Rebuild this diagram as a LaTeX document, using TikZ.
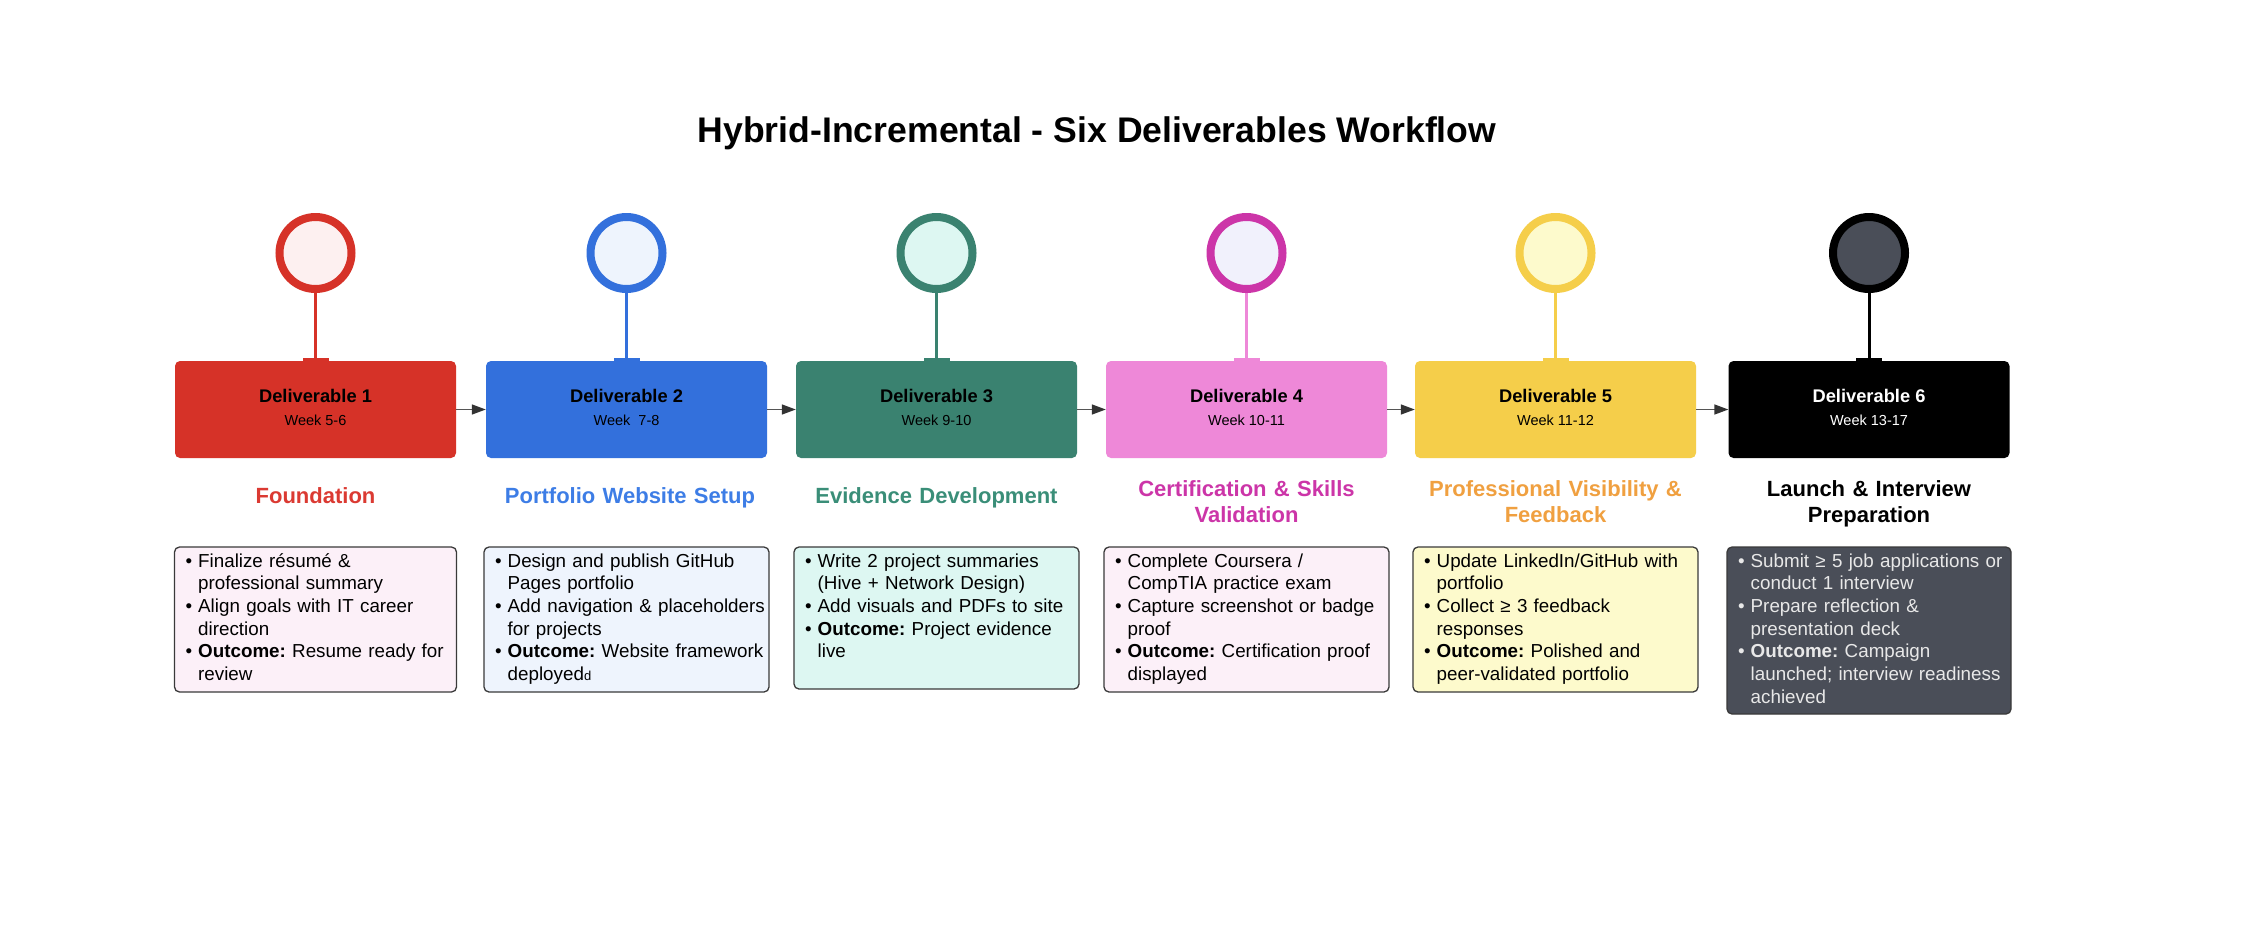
\documentclass[tikz,border=0pt]{standalone}
\usepackage{fontspec}
\setmainfont{Liberation Sans}
\usetikzlibrary{arrows.meta}
\definecolor{colA}{HTML}{D63228}
\definecolor{colB}{HTML}{3370DC}
\definecolor{colC}{HTML}{3A8270}
\definecolor{colD}{HTML}{EE88D8}
\definecolor{colE}{HTML}{F5CE4A}
\definecolor{colF}{HTML}{000000}
\definecolor{ringD}{HTML}{CC35A8}
\definecolor{fillA}{HTML}{FDF0F0}
\definecolor{fillB}{HTML}{EEF4FD}
\definecolor{fillC}{HTML}{DDF7F2}
\definecolor{fillD}{HTML}{F1F1FC}
\definecolor{fillE}{HTML}{FDFACC}
\definecolor{fillF}{HTML}{4A4E58}
\definecolor{listA}{HTML}{FCF0F8}
\definecolor{ttlA}{HTML}{DB3A32}
\definecolor{ttlB}{HTML}{3D7DE6}
\definecolor{ttlC}{HTML}{3A8E78}
\definecolor{ttlD}{HTML}{CC35A8}
\definecolor{ttlE}{HTML}{F0A040}
\definecolor{arrgray}{HTML}{555555}
\definecolor{arrdark}{HTML}{333333}
\definecolor{boxedge}{HTML}{3A3A3A}
\definecolor{lighttext}{HTML}{E8E8E8}
\newcommand\bitem{\makebox[12.5pt][l]{\textbullet}}
\newcommand\cont{\hspace*{12.5pt}}
\frenchspacing
\begin{document}
\begin{tikzpicture}[x=1pt,y=-1pt,
  ring/.style={circle, line width=8pt, minimum size=72pt, inner sep=0pt},
  delbox/.style={rectangle, rounded corners=5pt, minimum width=281pt, minimum height=97pt, inner sep=0pt},
  stem/.style={line width=3pt},
  flow/.style={draw=arrgray, line width=1.5pt, -{Triangle[length=14pt,width=10pt,color=arrdark]}},
  dtitle/.style={anchor=base, inner sep=0pt, font=\fontsize{18.3}{22}\selectfont\bfseries},
  dweek/.style={anchor=base, inner sep=0pt, font=\fontsize{14.5}{17}\selectfont},
  phase/.style={anchor=base, font=\fontsize{22}{26}\selectfont\bfseries, text width=320pt, align=center, inner sep=0pt},
  listbox/.style={draw=boxedge, line width=1.3pt, rounded corners=5pt, inner sep=0pt},
  listtext/.style={anchor=base west, font=\fontsize{18.8}{22.7}\selectfont\frenchspacing, text width=285pt, align=left, inner sep=0pt},
]
\useasboundingbox (0,0) rectangle (2264,946);
\fill[white] (0,0) rectangle (2264,946);

\node[anchor=base, inner sep=0pt, font=\fontsize{35.6}{40}\selectfont\bfseries] (title) at (1097,142) {Hybrid-Incremental - Six Deliverables Workflow};

% circles
\node[ring, draw=colA, fill=fillA] (c1) at (315.5,253) {};
\node[ring, draw=colB, fill=fillB] (c2) at (626.5,253) {};
\node[ring, draw=colC, fill=fillC] (c3) at (936.5,253) {};
\node[ring, draw=ringD, fill=fillD] (c4) at (1246.5,253) {};
\node[ring, draw=colE, fill=fillE] (c5) at (1555.5,253) {};
\node[ring, draw=colF, fill=fillF] (c6) at (1869,253) {};

% deliverable boxes
\node[delbox, fill=colA] (d1) at (315.5,409.5) {};
\node[delbox, fill=colB] (d2) at (626.5,409.5) {};
\node[delbox, fill=colC] (d3) at (936.5,409.5) {};
\node[delbox, fill=colD] (d4) at (1246.5,409.5) {};
\node[delbox, fill=colE] (d5) at (1555.5,409.5) {};
\node[delbox, fill=colF] (d6) at (1869,409.5) {};

% stems and tabs
\foreach \i/\c in {1/colA,2/colB,3/colC,4/colD,5/colE,6/colF}{
  \draw[stem, draw=\c] (c\i.south) -- (d\i.north);
  \fill[\c] ([xshift=-13pt]d\i.north) rectangle ([xshift=13pt,yshift=3pt]d\i.north);
}

% arrows
\draw[flow] (d1.east) -- (d2.west);
\draw[flow] (d2.east) -- (d3.west);
\draw[flow] (d3.east) -- (d4.west);
\draw[flow] (d4.east) -- (d5.west);
\draw[flow] (d5.east) -- (d6.west);

% box labels
\node[dtitle] (d1t) at (315.5,402) {Deliverable 1};
\node[dweek] (d1w) at (315.5,425) {Week 5-6};
\node[dtitle] (d2t) at (626.5,402) {Deliverable 2};
\node[dweek] (d2w) at (626.5,425) {Week\ \ 7-8};
\node[dtitle] (d3t) at (936.5,402) {Deliverable 3};
\node[dweek] (d3w) at (936.5,425) {Week 9-10};
\node[dtitle] (d4t) at (1246.5,402) {Deliverable 4};
\node[dweek] (d4w) at (1246.5,425) {Week 10-11};
\node[dtitle] (d5t) at (1555.5,402) {Deliverable 5};
\node[dweek] (d5w) at (1555.5,425) {Week 11-12};
\node[dtitle, text=white] (d6t) at (1869,402) {Deliverable 6};
\node[dweek, text=white] (d6w) at (1869,425) {Week 13-17};

% phase titles
\node[phase, text=ttlA] (p1) at (315.5,503) {Foundation};
\node[phase, text=ttlB] (p2) at (630,503) {Portfolio Website Setup};
\node[phase, text=ttlC] (p3) at (936.5,503) {Evidence Development};
\node[phase, text=ttlD] (p4) at (1246.5,496) {Certification \& Skills\\Validation};
\node[phase, text=ttlE] (p5) at (1555.5,496) {Professional Visibility \&\\Feedback};
\node[phase, text=black] (p6) at (1869,496) {Launch \& Interview\\Preparation};

% list boxes
\node[listbox, fill=listA, minimum width=282pt, minimum height=145pt] (b1) at (315.5,619.5) {};
\node[listbox, fill=fillB, minimum width=285pt, minimum height=145pt] (b2) at (626.5,619.5) {};
\node[listbox, fill=fillC, minimum width=285pt, minimum height=142pt] (b3) at (936.5,618) {};
\node[listbox, fill=listA, minimum width=285pt, minimum height=145pt] (b4) at (1246.5,619.5) {};
\node[listbox, fill=fillE, minimum width=285pt, minimum height=145pt] (b5) at (1555.5,619.5) {};
\node[listbox, fill=fillF, minimum width=284pt, minimum height=167pt] (b6) at (1869,630.5) {};

% list texts
\node[listtext] (l1) at (185.5,567) {\bitem Finalize résumé \&\\\cont professional summary\\\bitem Align goals with IT career\\\cont direction\\\bitem \textbf{Outcome:} Resume ready for\\\cont review};
\node[listtext] (l2) at (495,567) {\bitem Design and publish GitHub\\\cont Pages portfolio\\\bitem Add navigation \& placeholders\\\cont for projects\\\bitem \textbf{Outcome:} Website framework\\\cont deployed{\fontsize{13}{13}\selectfont d}};
\node[listtext] (l3) at (805,567) {\bitem Write 2 project summaries\\\cont (Hive + Network Design)\\\bitem Add visuals and PDFs to site\\\bitem \textbf{Outcome:} Project evidence\\\cont live};
\node[listtext] (l4) at (1115,567) {\bitem Complete Coursera /\\\cont CompTIA practice exam\\\bitem Capture screenshot or badge\\\cont proof\\\bitem \textbf{Outcome:} Certification proof\\\cont displayed};
\node[listtext] (l5) at (1424,567) {\bitem Update LinkedIn/GitHub with\\\cont portfolio\\\bitem Collect ≥ 3 feedback\\\cont responses\\\bitem \textbf{Outcome:} Polished and\\\cont peer-validated portfolio};
\node[listtext, text=lighttext] (l6) at (1738,567) {\bitem Submit ≥ 5 job applications or\\\cont conduct 1 interview\\\bitem Prepare reflection \&\\\cont presentation deck\\\bitem \textbf{Outcome:} Campaign\\\cont launched; interview readiness\\\cont achieved};
\end{tikzpicture}
\end{document}
